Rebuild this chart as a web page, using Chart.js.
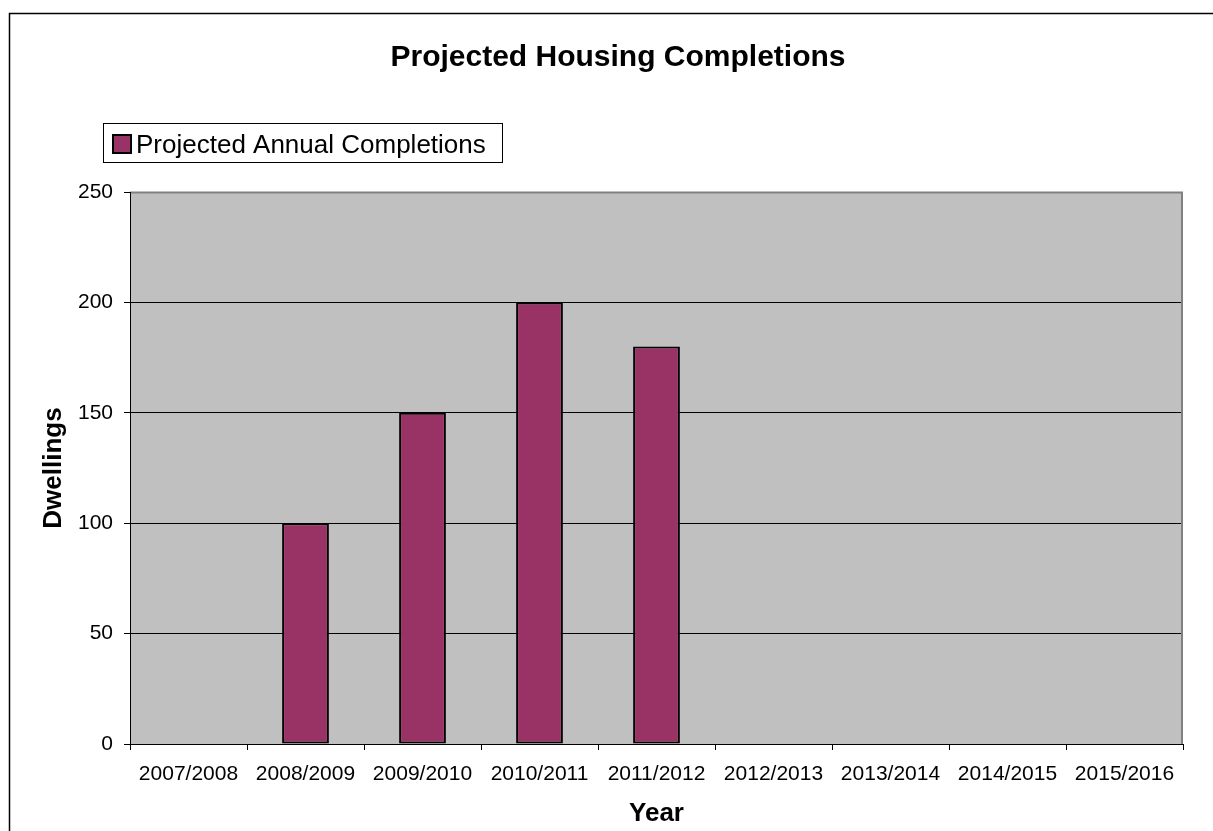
<!DOCTYPE html>
<html>
<head>
<meta charset="utf-8">
<script src="https://cdn.jsdelivr.net/npm/chart.js@4/dist/chart.umd.min.js"></script>
<style>
html,body{margin:0;padding:0;background:#fff;}
canvas{display:block;}
</style>
</head>
<body>
<canvas id="c" width="1213" height="831"></canvas>
<script>
const categories = ['2007/2008','2008/2009','2009/2010','2010/2011','2011/2012','2012/2013','2013/2014','2014/2015','2015/2016'];
const completions = [null, 100, 150, 200, 180, null, null, null, null];
const seriesName = 'Projected Annual Completions';
const chartTitle = 'Projected Housing Completions';
const xTitle = 'Year';
const yTitle = 'Dwellings';

const FONT = '"Liberation Sans", Arial, sans-serif';

const decor = {
  id: 'decor',
  beforeDraw(chart) {
    const ctx = chart.ctx, a = chart.chartArea;
    ctx.save();
    ctx.fillStyle = '#fff';
    ctx.fillRect(0, 0, chart.width, chart.height);
    ctx.fillStyle = '#C0C0C0';
    ctx.fillRect(a.left, a.top, a.right - a.left, a.bottom - a.top);
    // outer frame
    ctx.strokeStyle = '#000';
    ctx.lineWidth = 1.5;
    ctx.strokeRect(9.5, 13.5, 1250, 900);
    ctx.restore();
  },
  beforeDatasetsDraw(chart) {
    const ctx = chart.ctx, a = chart.chartArea;
    ctx.save();
    ctx.strokeStyle = '#808080';
    ctx.lineWidth = 2;
    ctx.beginPath();
    ctx.moveTo(a.left, a.top + 0.5);
    ctx.lineTo(a.right - 1, a.top + 0.5);
    ctx.lineTo(a.right - 1, a.bottom);
    ctx.stroke();
    ctx.strokeStyle = '#000';
    ctx.lineWidth = 1;
    ctx.beginPath();
    ctx.moveTo(a.left + 0.5, a.top);
    ctx.lineTo(a.left + 0.5, a.bottom);
    ctx.stroke();
    ctx.restore();
  },
  afterDraw(chart) {
    const ctx = chart.ctx;
    const ds = chart.data.datasets[0];
    ctx.save();
    // title
    ctx.fillStyle = '#000';
    ctx.font = 'bold 30px ' + FONT;
    ctx.textAlign = 'center';
    ctx.textBaseline = 'alphabetic';
    ctx.fillText(chartTitle, 618, 66);
    // legend
    ctx.fillStyle = '#fff';
    ctx.fillRect(103, 123, 399, 39);
    ctx.strokeStyle = '#000';
    ctx.lineWidth = 1;
    ctx.strokeRect(103.5, 123.5, 399, 39);
    ctx.fillStyle = ds.backgroundColor;
    ctx.fillRect(113, 135, 18, 18);
    ctx.lineWidth = 2;
    ctx.strokeRect(113, 135, 18, 18);
    ctx.fillStyle = '#000';
    ctx.font = '26px ' + FONT;
    ctx.textAlign = 'left';
    ctx.fillText(ds.label, 136, 153);
    ctx.restore();
  }
};

new Chart(document.getElementById('c'), {
  type: 'bar',
  data: {
    labels: categories,
    datasets: [{
      label: seriesName,
      data: completions,
      backgroundColor: '#993366',
      borderColor: '#000',
      borderWidth: 2,
      borderSkipped: false,
      categoryPercentage: 1,
      barPercentage: 0.4
    }]
  },
  options: {
    responsive: false,
    animation: false,
    devicePixelRatio: 1,
    layout: { padding: { left: 9, top: 192, right: 30, bottom: 1 } },
    plugins: { legend: { display: false }, title: { display: false }, tooltip: { enabled: false } },
    scales: {
      x: {
        offset: true,
        grid: { display: true, drawOnChartArea: false, drawTicks: true, tickLength: 6, color: '#000', offset: true },
        border: { display: true, color: '#000', width: 1 },
        ticks: { color: '#000', font: { family: FONT, size: 21 }, padding: 12, maxRotation: 0, autoSkip: false },
        title: { display: true, text: xTitle, color: '#000', font: { family: FONT, size: 26, weight: 'bold' }, padding: { top: 0, bottom: 1 } },
        afterFit(s) { s.height = 86; }
      },
      y: {
        min: 0, max: 250,
        grid: { color: '#000', lineWidth: 1, tickLength: 6, drawTicks: true },
        border: { display: true, color: '#000', width: 1 },
        ticks: { stepSize: 50, color: '#000', font: { family: FONT, size: 21 }, padding: 11 },
        title: { display: true, text: yTitle, color: '#000', font: { family: FONT, size: 26, weight: 'bold' }, padding: { top: 29, bottom: 0 } },
        afterFit(s) { s.width = 121; }
      }
    }
  },
  plugins: [decor]
});
</script>
</body>
</html>
